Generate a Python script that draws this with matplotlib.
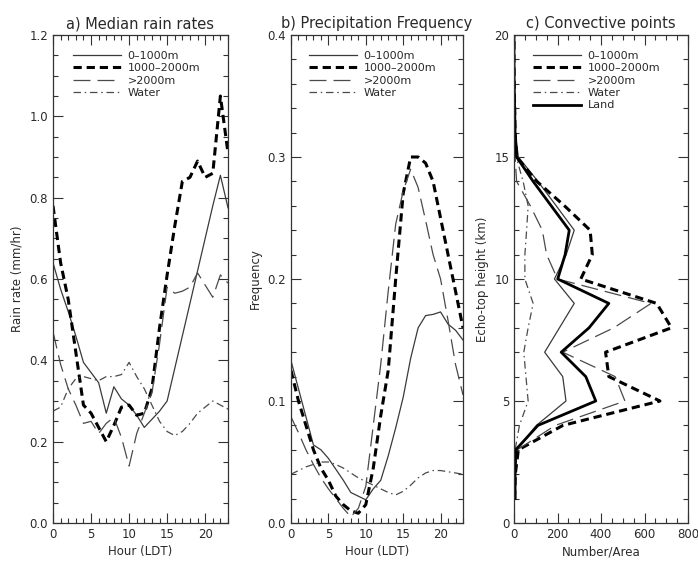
import matplotlib
matplotlib.use("Agg")
import matplotlib.pyplot as plt
from matplotlib.ticker import MultipleLocator
import numpy as np

hours = list(range(24))

# a) Median rain rates (mm/hr)
rate_0_1000 = [0.64, 0.575, 0.52, 0.46, 0.395, 0.37, 0.345, 0.27, 0.335, 0.305, 0.29, 0.265,
               0.235, 0.255, 0.275, 0.30, 0.38, 0.46, 0.54, 0.62, 0.70, 0.78, 0.855, 0.775]
rate_1000_2000 = [0.78, 0.64, 0.55, 0.42, 0.29, 0.27, 0.235, 0.20, 0.24, 0.285, 0.29, 0.265,
                  0.27, 0.33, 0.48, 0.61, 0.73, 0.84, 0.85, 0.89, 0.85, 0.86, 1.05, 0.91]
rate_gt2000 = [0.47, 0.39, 0.33, 0.29, 0.245, 0.25, 0.22, 0.245, 0.26, 0.21, 0.14, 0.22,
               0.27, 0.32, 0.44, 0.58, 0.565, 0.57, 0.58, 0.615, 0.585, 0.555, 0.61, 0.59]
rate_water = [0.275, 0.285, 0.33, 0.355, 0.36, 0.355, 0.35, 0.36, 0.36, 0.365, 0.395, 0.36,
              0.33, 0.29, 0.25, 0.225, 0.215, 0.225, 0.245, 0.27, 0.285, 0.30, 0.29, 0.28]

# b) Precipitation frequency
freq_0_1000 = [0.133, 0.11, 0.087, 0.064, 0.06, 0.053, 0.044, 0.035, 0.025, 0.022, 0.019, 0.028,
               0.035, 0.055, 0.078, 0.103, 0.135, 0.16, 0.17, 0.171, 0.173, 0.163, 0.158, 0.15]
freq_1000_2000 = [0.125, 0.10, 0.08, 0.06, 0.045, 0.035, 0.022, 0.015, 0.01, 0.008, 0.015, 0.045,
                  0.088, 0.125, 0.20, 0.27, 0.30, 0.30, 0.295, 0.28, 0.25, 0.22, 0.19, 0.16]
freq_gt2000 = [0.087, 0.074, 0.06, 0.048, 0.037, 0.028, 0.02, 0.012, 0.005, 0.012, 0.03, 0.08,
               0.13, 0.19, 0.245, 0.272, 0.29, 0.275, 0.248, 0.22, 0.20, 0.166, 0.13, 0.105]
freq_water = [0.04, 0.043, 0.046, 0.048, 0.05, 0.05, 0.048, 0.045, 0.041, 0.037, 0.034, 0.031,
              0.028, 0.025, 0.023, 0.026, 0.031, 0.037, 0.041, 0.043, 0.043, 0.042, 0.041, 0.04]

# c) Convective points: echo-top height (km) vs Number/Area
heights = list(range(1, 21))
conv_0_1000 = [3, 5, 12, 103, 239, 224, 141, 209, 277, 186, 240, 277, 194, 110, 20, 6, 3, 1, 0, 0]
conv_1000_2000 = [3, 6, 20, 225, 671, 436, 421, 724, 656, 307, 360, 350, 232, 105, 12, 5, 3, 1, 0, 0]
conv_gt2000 = [2, 4, 15, 190, 510, 465, 224, 459, 630, 200, 150, 130, 75, 12, 5, 2, 1, 0, 0, 0]
conv_water = [1, 2, 5, 25, 65, 55, 45, 65, 88, 50, 50, 58, 65, 42, 10, 4, 2, 1, 0, 0]
conv_land = [5, 5, 8, 110, 376, 330, 217, 345, 436, 201, 235, 254, 171, 88, 12, 5, 3, 1, 0, 0]

labels = ["0\u20131000m", "1000\u20132000m", ">2000m", "Water", "Land"]

styles = [
    dict(color="#3a3a3a", lw=0.9, ls="-"),
    dict(color="black", lw=2.2, ls=(0, (2.7, 1.6))),
    dict(color="#4a4a4a", lw=0.9, ls=(0, (13.6, 5.6))),
    dict(color="#4a4a4a", lw=0.9, ls=(0, (6, 3, 1.2, 3))),
    dict(color="black", lw=2.0, ls="-"),
]

TXT = "#2a2a2a"
W, H = 698, 563
fig = plt.figure(figsize=(W / 100, H / 100), dpi=100)

def rect(x0, x1, y0=35, y1=523):
    return [x0 / W, 1 - y1 / H, (x1 - x0) / W, (y1 - y0) / H]

axa = fig.add_axes(rect(53, 228))
axb = fig.add_axes(rect(291, 463))
axc = fig.add_axes(rect(514, 688))

def style_ax(ax):
    ax.tick_params(which="both", direction="in", top=True, right=True,
                   labelsize=8.5, colors="#333333", labelcolor=TXT, width=0.8)
    ax.tick_params(which="major", length=7)
    ax.tick_params(which="minor", length=3.5)
    for s in ax.spines.values():
        s.set_linewidth(0.9)
        s.set_color("#333333")

def add_legend(ax, dx):
    ax.legend(loc="upper left", bbox_to_anchor=(dx, 0.968), frameon=False,
              fontsize=8, handlelength=4.3, handletextpad=0.6, labelspacing=0.22,
              borderpad=0, borderaxespad=0, labelcolor=TXT)

# Panel a
for ys, lab, st in zip([rate_0_1000, rate_1000_2000, rate_gt2000, rate_water], labels, styles):
    axa.plot(hours, ys, label=lab, **st)
axa.set_xlim(0, 23)
axa.set_ylim(0, 1.2)
axa.xaxis.set_major_locator(MultipleLocator(5))
axa.xaxis.set_minor_locator(MultipleLocator(1))
axa.yaxis.set_major_locator(MultipleLocator(0.2))
axa.yaxis.set_minor_locator(MultipleLocator(0.05))
axa.yaxis.set_major_formatter(plt.FuncFormatter(lambda v, p: f"{v:.1f}"))
axa.set_title("a) Median rain rates", fontsize=10.5, pad=5, color=TXT)
axa.set_xlabel("Hour (LDT)", fontsize=8.5, labelpad=3, color=TXT)
axa.set_ylabel("Rain rate (mm/hr)", fontsize=8.5, labelpad=4, color=TXT)
style_ax(axa)
add_legend(axa, 0.114)

# Panel b
for ys, lab, st in zip([freq_0_1000, freq_1000_2000, freq_gt2000, freq_water], labels, styles):
    axb.plot(hours, ys, label=lab, **st)
axb.set_xlim(0, 23)
axb.set_ylim(0, 0.4)
axb.xaxis.set_major_locator(MultipleLocator(5))
axb.xaxis.set_minor_locator(MultipleLocator(1))
axb.yaxis.set_major_locator(MultipleLocator(0.1))
axb.yaxis.set_minor_locator(MultipleLocator(0.02))
axb.yaxis.set_major_formatter(plt.FuncFormatter(lambda v, p: f"{v:.1f}"))
axb.set_title("b) Precipitation Frequency", fontsize=10.5, pad=5, color=TXT)
axb.set_xlabel("Hour (LDT)", fontsize=8.5, labelpad=3, color=TXT)
axb.set_ylabel("Frequency", fontsize=8.5, labelpad=4, color=TXT)
style_ax(axb)
add_legend(axb, 0.105)

# Panel c
for xs, lab, st in zip([conv_0_1000, conv_1000_2000, conv_gt2000, conv_water, conv_land], labels, styles):
    axc.plot(xs, heights, label=lab, **st)
axc.set_xlim(0, 800)
axc.set_ylim(0, 20)
axc.xaxis.set_major_locator(MultipleLocator(200))
axc.xaxis.set_minor_locator(MultipleLocator(50))
axc.yaxis.set_major_locator(MultipleLocator(5))
axc.yaxis.set_minor_locator(MultipleLocator(1))
axc.set_title("c) Convective points", fontsize=10.5, pad=5, color=TXT)
axc.set_xlabel("Number/Area", fontsize=8.5, labelpad=3, color=TXT)
axc.set_ylabel("Echo-top height (km)", fontsize=8.5, labelpad=4, color=TXT)
style_ax(axc)
add_legend(axc, 0.11)

fig.savefig("out.png", dpi=100)
